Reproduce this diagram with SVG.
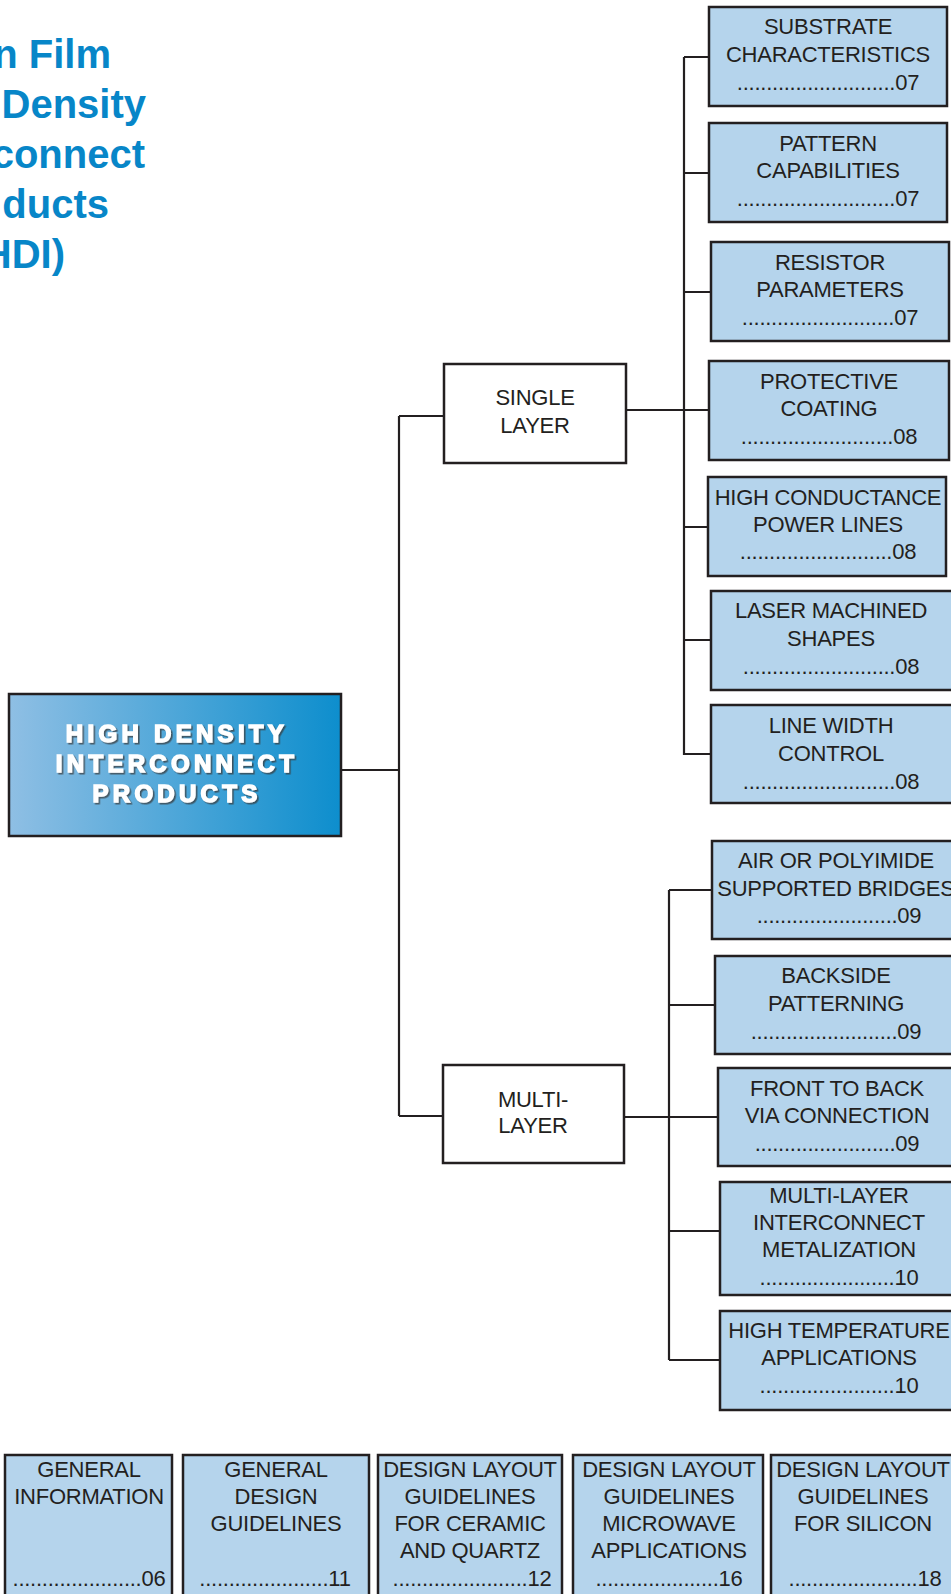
<svg xmlns="http://www.w3.org/2000/svg" width="951" height="1594" viewBox="0 0 951 1594">
<style>
.t{font-family:"Liberation Sans",Arial,sans-serif;font-size:22px;fill:#231f20;text-anchor:middle;letter-spacing:-0.25px}
.bx{fill:#b5d4ec;stroke:#231f20;stroke-width:2.5}
.wb{fill:#ffffff;stroke:#231f20;stroke-width:2.5}
.title{font-family:"Liberation Sans",Arial,sans-serif;font-size:40px;font-weight:bold;fill:#0786c8;text-anchor:end}
.mt{font-family:"Liberation Sans",Arial,sans-serif;font-size:24px;font-weight:bold;fill:#ffffff;stroke:#ffffff;stroke-width:1.5;text-anchor:middle;letter-spacing:4.3px}
.c{fill:none;stroke:#231f20;stroke-width:2.2}
</style>
<defs>
<linearGradient id="g" x1="0" y1="0" x2="1" y2="0">
<stop offset="0" stop-color="#8fbfe4"/>
<stop offset="1" stop-color="#0d8ecd"/>
</linearGradient>
<filter id="sh" x="-10%" y="-20%" width="120%" height="150%">
<feDropShadow dx="1.6" dy="1.6" stdDeviation="0.7" flood-color="#3a3a3a" flood-opacity="0.75"/>
</filter>
</defs>
<rect width="951" height="1594" fill="#ffffff"/>

<g id="title">
<text class="title" x="111" y="68">n Film</text>
<text class="title" x="146" y="118">Density</text>
<text class="title" x="145" y="168">connect</text>
<text class="title" x="109" y="218">ducts</text>
<text class="title" x="65" y="268">HDI)</text>
</g>

<g id="connectors">
<path class="c" d="M341 770 H399 M399 416 V1116 M399 416 H444 M399 1116 H443"/>
<path class="c" d="M626 410 H709 M684 57 V755 M684 57 H709 M684 173 H709 M684 292 H711 M684 527 H708 M684 640 H711 M684 754 H711"/>
<path class="c" d="M624 1117 H718 M669 890 V1360 M669 890 H712 M669 1005 H715 M669 1231 H720 M669 1360 H720"/>
</g>

<g id="main">
<rect x="9" y="694" width="332" height="142" fill="url(#g)" stroke="#231f20" stroke-width="2.5"/>
<g filter="url(#sh)">
<text class="mt" x="177" y="742">HIGH DENSITY</text>
<text class="mt" x="177" y="772">INTERCONNECT</text>
<text class="mt" x="177" y="802">PRODUCTS</text>
</g>
</g>

<g id="single-layer">
<rect class="wb" x="444" y="364" width="182" height="99"/>
<text class="t" x="535" y="405">SINGLE</text>
<text class="t" x="535" y="433">LAYER</text>
</g>

<g id="multi-layer">
<rect class="wb" x="443" y="1065" width="181" height="98"/>
<text class="t" x="533" y="1107">MULTI-</text>
<text class="t" x="533" y="1133">LAYER</text>
</g>

<g id="substrate">
<rect class="bx" x="709" y="7" width="238" height="99"/>
<text class="t" x="828" y="34">SUBSTRATE</text>
<text class="t" x="828" y="62">CHARACTERISTICS</text>
<text class="t" x="828" y="90">...........................07</text>
</g>

<g id="pattern">
<rect class="bx" x="709" y="123" width="238" height="99"/>
<text class="t" x="828" y="151">PATTERN</text>
<text class="t" x="828" y="178">CAPABILITIES</text>
<text class="t" x="828" y="206">...........................07</text>
</g>

<g id="resistor">
<rect class="bx" x="711" y="242" width="238" height="99"/>
<text class="t" x="830" y="270">RESISTOR</text>
<text class="t" x="830" y="297">PARAMETERS</text>
<text class="t" x="830" y="325">..........................07</text>
</g>

<g id="protective">
<rect class="bx" x="709" y="361" width="240" height="99"/>
<text class="t" x="829" y="389">PROTECTIVE</text>
<text class="t" x="829" y="416">COATING</text>
<text class="t" x="829" y="444">..........................08</text>
</g>

<g id="high-conductance">
<rect class="bx" x="708" y="477" width="238" height="99"/>
<text class="t" x="828" y="505">HIGH CONDUCTANCE</text>
<text class="t" x="828" y="532">POWER LINES</text>
<text class="t" x="828" y="559">..........................08</text>
</g>

<g id="laser">
<rect class="bx" x="711" y="591" width="250" height="99"/>
<text class="t" x="831" y="618">LASER MACHINED</text>
<text class="t" x="831" y="646">SHAPES</text>
<text class="t" x="831" y="674">..........................08</text>
</g>

<g id="line-width">
<rect class="bx" x="711" y="705" width="250" height="98"/>
<text class="t" x="831" y="733">LINE WIDTH</text>
<text class="t" x="831" y="761">CONTROL</text>
<text class="t" x="831" y="789">..........................08</text>
</g>

<g id="air-bridges">
<rect class="bx" x="712" y="841" width="250" height="98"/>
<text class="t" x="836" y="868">AIR OR POLYIMIDE</text>
<text class="t" x="836" y="896">SUPPORTED BRIDGES</text>
<text class="t" x="839" y="923">........................09</text>
</g>

<g id="backside">
<rect class="bx" x="715" y="956" width="250" height="98"/>
<text class="t" x="836" y="983">BACKSIDE</text>
<text class="t" x="836" y="1011">PATTERNING</text>
<text class="t" x="836" y="1039">.........................09</text>
</g>

<g id="front-to-back">
<rect class="bx" x="718" y="1068" width="250" height="98"/>
<text class="t" x="837" y="1096">FRONT TO BACK</text>
<text class="t" x="837" y="1123">VIA CONNECTION</text>
<text class="t" x="837" y="1151">........................09</text>
</g>

<g id="multi-layer-metal">
<rect class="bx" x="720" y="1182" width="250" height="113"/>
<text class="t" x="839" y="1203">MULTI-LAYER</text>
<text class="t" x="839" y="1230">INTERCONNECT</text>
<text class="t" x="839" y="1257">METALIZATION</text>
<text class="t" x="839" y="1285">.......................10</text>
</g>

<g id="high-temp">
<rect class="bx" x="720" y="1311" width="250" height="99"/>
<text class="t" x="839" y="1338">HIGH TEMPERATURE</text>
<text class="t" x="839" y="1365">APPLICATIONS</text>
<text class="t" x="839" y="1393">.......................10</text>
</g>

<g id="general-info">
<rect class="bx" x="5" y="1455" width="167" height="150"/>
<text class="t" x="89" y="1477">GENERAL</text>
<text class="t" x="89" y="1504">INFORMATION</text>
<text class="t" x="89" y="1586">......................06</text>
</g>

<g id="general-design">
<rect class="bx" x="183" y="1455" width="186" height="150"/>
<text class="t" x="276" y="1477">GENERAL</text>
<text class="t" x="276" y="1504">DESIGN</text>
<text class="t" x="276" y="1531">GUIDELINES</text>
<text class="t" x="275" y="1586">......................11</text>
</g>

<g id="ceramic">
<rect class="bx" x="378" y="1455" width="184" height="150"/>
<text class="t" x="470" y="1477">DESIGN LAYOUT</text>
<text class="t" x="470" y="1504">GUIDELINES</text>
<text class="t" x="470" y="1531">FOR CERAMIC</text>
<text class="t" x="470" y="1558">AND QUARTZ</text>
<text class="t" x="472" y="1586">.......................12</text>
</g>

<g id="microwave">
<rect class="bx" x="573" y="1455" width="190" height="150"/>
<text class="t" x="669" y="1477">DESIGN LAYOUT</text>
<text class="t" x="669" y="1504">GUIDELINES</text>
<text class="t" x="669" y="1531">MICROWAVE</text>
<text class="t" x="669" y="1558">APPLICATIONS</text>
<text class="t" x="669" y="1586">.....................16</text>
</g>

<g id="silicon">
<rect class="bx" x="771" y="1455" width="190" height="150"/>
<text class="t" x="863" y="1477">DESIGN LAYOUT</text>
<text class="t" x="863" y="1504">GUIDELINES</text>
<text class="t" x="863" y="1531">FOR SILICON</text>
<text class="t" x="865" y="1586">......................18</text>
</g>
</svg>
